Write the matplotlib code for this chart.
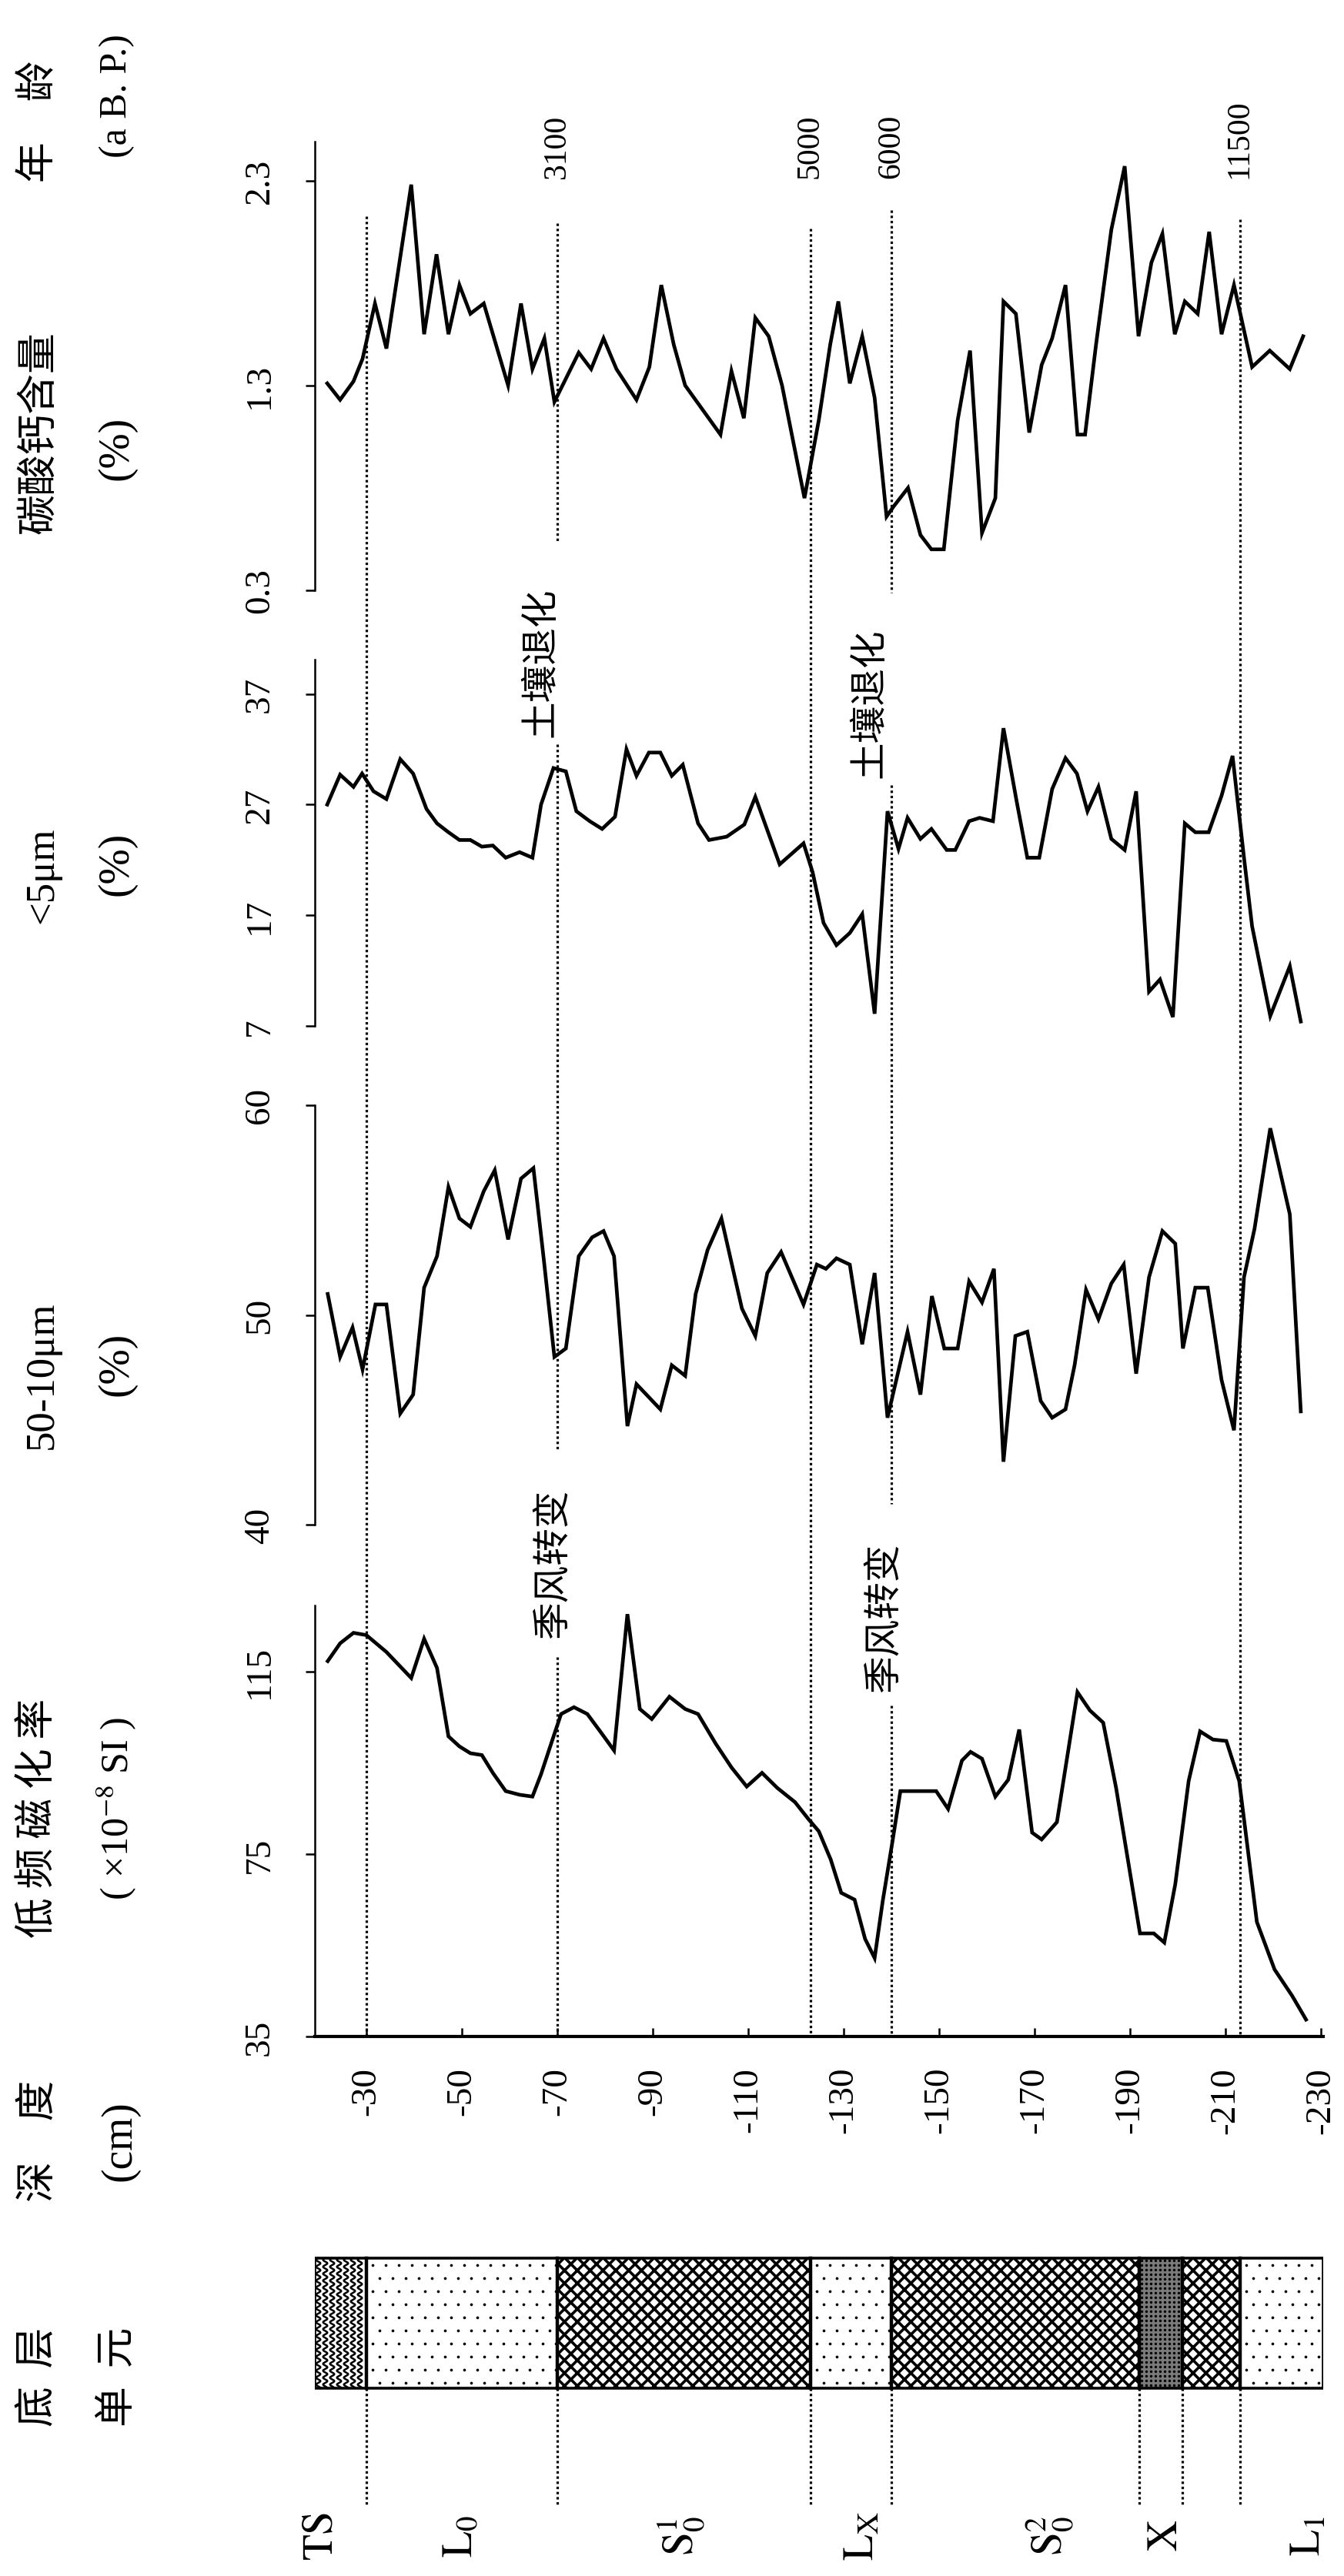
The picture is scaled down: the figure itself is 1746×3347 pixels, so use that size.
import matplotlib
matplotlib.use("Agg")
import matplotlib.pyplot as plt
from matplotlib.patches import Rectangle
import numpy as np

plt.rcParams['font.family'] = ['Noto Sans CJK SC', 'DejaVu Sans']
plt.rcParams['mathtext.fontset'] = 'stix'
plt.rcParams['hatch.linewidth'] = 2.6
plt.rcParams['axes.unicode_minus'] = False
SERIF = ['Liberation Serif', 'DejaVu Serif']

# ---------------- data ----------------
carb_depth = [-21.8, -24.5, -27.3, -29.2, -31.8, -34.2, -39.4, -42.1, -44.7, -47.2, -49.5, -51.8, -54.6,
              -59.7, -62.4, -64.8, -67.3, -69.4, -74.5, -77.1, -79.7, -82.4, -86.6, -89.3, -91.8, -94.4,
              -96.8, -104.2, -106.5, -109.1, -111.5, -114.3, -117.1, -121.8, -124.8, -127.2, -128.9,
              -131.3, -133.9, -136.5, -139.0, -140.5, -143.5, -146.1, -148.4, -151.0, -153.9, -156.5,
              -159.0, -161.8, -163.5, -166.1, -168.9, -171.5, -173.7, -176.5, -179.0, -180.6, -182.9,
              -186.1, -188.9, -191.8, -194.5, -196.8, -199.4, -201.5, -204.2, -206.6, -209.2, -211.8,
              -215.6, -219.3, -223.5, -226.3]
carb_value = [1.31, 1.23, 1.32, 1.43, 1.70, 1.48, 2.28, 1.55, 1.94, 1.55, 1.79, 1.65, 1.70,
              1.30, 1.70, 1.38, 1.53, 1.22, 1.46, 1.38, 1.53, 1.38, 1.23, 1.39, 1.79, 1.50,
              1.30, 1.06, 1.37, 1.14, 1.63, 1.54, 1.30, 0.75, 1.13, 1.50, 1.71,
              1.31, 1.54, 1.24, 0.66, 0.71, 0.80, 0.57, 0.50, 0.50, 1.13, 1.47,
              0.58, 0.75, 1.71, 1.65, 1.07, 1.40, 1.53, 1.79, 1.06, 1.06, 1.50,
              2.06, 2.37, 1.54, 1.90, 2.04, 1.55, 1.71, 1.65, 2.05, 1.55, 1.79,
              1.39, 1.47, 1.38, 1.54]

fine_depth = [-21.8, -24.5, -27.3, -29.1, -31.5, -34.2, -37.1, -39.8, -42.6, -44.8, -47.2, -49.5, -51.8,
              -54.2, -56.5, -59.2, -62.1, -64.8, -66.6, -69.2, -71.8, -74.0, -76.8, -79.4, -82.1, -84.5,
              -86.6, -89.2, -91.6, -94.0, -96.3, -99.5, -101.8, -105.5, -109.2, -111.5, -116.6, -121.6,
              -123.5, -125.8, -128.5, -131.3, -133.9, -136.5, -139.2, -141.5, -143.4, -146.1, -148.4,
              -151.6, -153.4, -156.3, -158.5, -161.3, -163.5, -166.3, -168.5, -171.0, -173.7, -176.5,
              -178.9, -181.1, -183.4, -186.1, -188.9, -191.3, -194.0, -196.3, -199.0, -201.5, -203.7,
              -206.5, -209.2, -211.5, -213.9, -215.6, -219.4, -223.5, -225.8]
fine_value = [27.0, 29.7, 28.6, 29.8, 28.2, 27.5, 31.1, 29.8, 26.6, 25.3, 24.5, 23.8, 23.8,
              23.2, 23.3, 22.2, 22.7, 22.2, 27.0, 30.3, 30.0, 26.4, 25.5, 24.8, 25.9, 32.0,
              29.6, 31.7, 31.7, 29.6, 30.6, 25.3, 23.8, 24.1, 25.2, 27.7, 21.6, 23.5,
              20.9, 16.3, 14.3, 15.4, 17.1, 8.1, 26.4, 23.0, 25.8, 23.9, 24.8,
              22.9, 22.9, 25.5, 25.8, 25.5, 33.9, 27.2, 22.2, 22.2, 28.4, 31.2,
              29.8, 26.4, 28.6, 23.9, 22.9, 28.2, 10.1, 11.2, 7.8, 25.3, 24.5,
              24.5, 27.8, 31.4, 22.2, 16.0, 7.9, 12.4, 7.4]

silt_depth = [-21.9, -24.5, -27.1, -29.2, -31.9, -34.2, -37.1, -39.8, -42.1, -44.8, -47.2, -49.5, -51.8,
              -54.6, -56.9, -59.7, -62.4, -65.0, -67.1, -69.4, -71.8, -74.5, -77.3, -79.7, -81.9, -84.7,
              -86.6, -91.6, -94.0, -96.8, -99.0, -101.5, -104.4, -108.7, -111.5, -114.0, -116.9, -121.6,
              -124.4, -126.3, -128.5, -131.3, -133.9, -136.5, -139.2, -143.4, -146.1, -148.5, -151.1,
              -153.9, -156.3, -159.0, -161.5, -163.5, -166.0, -168.5, -171.3, -173.7, -176.5, -178.4,
              -180.8, -183.4, -186.1, -188.7, -191.3, -194.0, -196.8, -199.5, -201.1, -203.7, -206.3,
              -209.2, -211.8, -213.9, -216.1, -219.4, -223.5, -225.8]
silt_value = [51.0, 48.0, 49.4, 47.4, 50.5, 50.5, 45.3, 46.2, 51.3, 52.8, 56.1, 54.6, 54.2,
              55.9, 56.9, 53.6, 56.5, 57.0, 52.8, 48.0, 48.4, 52.8, 53.7, 54.0, 52.8, 44.7,
              46.7, 45.5, 47.6, 47.1, 51.0, 53.1, 54.6, 50.3, 49.0, 52.0, 53.0, 50.5,
              52.4, 52.2, 52.7, 52.4, 48.6, 52.0, 45.1, 49.2, 46.2, 50.9, 48.4,
              48.4, 51.6, 50.6, 52.2, 43.0, 49.0, 49.2, 45.9, 45.1, 45.5, 47.6,
              51.2, 49.8, 51.5, 52.4, 47.2, 51.8, 54.0, 53.4, 48.4, 51.3, 51.3,
              46.9, 44.5, 51.8, 54.1, 58.9, 54.8, 45.4]

mag_depth = [-21.9, -24.5, -27.3, -30.0, -34.2, -39.4, -42.1, -44.8, -47.2, -49.5, -51.8, -54.2, -56.5,
             -59.2, -62.1, -64.8, -66.6, -69.0, -70.8, -73.5, -76.3, -79.2, -81.9, -84.7, -87.3, -89.8,
             -93.5, -96.8, -99.5, -103.2, -106.5, -109.7, -112.9, -116.1, -119.8, -122.6, -124.8,
             -127.3, -129.5, -132.3, -134.5, -136.5, -138.2, -140.2, -141.9, -145.6, -149.4, -151.9,
             -154.8, -156.6, -159.0, -161.8, -164.5, -166.8, -169.5, -171.5, -174.7, -179.0, -181.6,
             -184.4, -187.1, -192.1, -195.0, -197.2, -199.5, -202.3, -204.7, -207.4, -210.2, -212.9,
             -214.7, -216.6, -220.3, -224.0, -226.9]
mag_value = [117.3, 121.2, 123.5, 123.0, 119.3, 113.6, 122.2, 115.8, 100.8, 98.6, 97.1, 96.7, 92.8,
             88.8, 88.0, 87.6, 92.5, 100.1, 105.7, 107.2, 105.7, 101.6, 97.7, 127.6, 106.8, 104.6,
             109.5, 106.8, 105.7, 99.2, 94.0, 89.8, 92.8, 89.5, 86.4, 82.7, 80.0,
             73.8, 66.5, 65.0, 56.4, 52.2, 64.7, 77.5, 88.8, 88.8, 88.8, 84.9,
             95.5, 97.4, 95.9, 87.6, 91.3, 102.3, 79.7, 78.2, 82.0, 110.5, 106.5,
             103.8, 89.5, 57.6, 57.6, 55.6, 68.4, 91.0, 101.9, 100.1, 99.8, 91.0,
             76.0, 60.1, 49.7, 43.9, 38.7]

depth_ticks = [-30, -50, -70, -90, -110, -130, -150, -170, -190, -210, -230]
carb_ticks = [0.3, 1.3, 2.3]
fine_ticks = [7, 17, 27, 37]
silt_ticks = [40, 50, 60]
mag_ticks = [35, 75, 115]

age_labels = ['3100', '5000', '6000', '11500']
age_depths = [-70, -123, -140, -213]
marker_depths = [-30, -70, -123, -140, -213]

unit_tops = [-19.2, -30, -70, -123, -140, -192, -201, -213]
unit_bottoms = [-30, -70, -123, -140, -192, -201, -213, -230.5]
unit_kinds = ['wave', 'dots', 'cross', 'dots', 'cross', 'dense', 'cross', 'dots']
unit_names = [r'$\mathrm{TS}$', r'$\mathrm{L_0}$', r'$\mathrm{S_0^1}$', r'$\mathrm{L_X}$',
              r'$\mathrm{S_0^2}$', r'$\mathrm{X}$', r'$\mathrm{L_1}$']
boundary_depths = [-30, -70, -123, -140, -192, -201, -213]

# ---------------- layout ----------------
W, H = 1746, 3348
X0, X1 = 409, 1719
XLIM = (-19.2, -230.5)

def fx(px):
    return px / W

def fy(py):
    return 1 - py / H

fig = plt.figure(figsize=(W / 100, H / 100), dpi=100)
fig.patch.set_facecolor('white')

# overlay axes: x in depth, y in pixel rows from top
ov = fig.add_axes([fx(X0), 0, fx(X1) - fx(X0), 1], zorder=0)
ov.set_xlim(*XLIM)
ov.set_ylim(H, 0)
ov.axis('off')

dot_ls = (0, (1.0, 1.1))
segments = {
    -30: [(282, 2647)],
    -70: [(291, 706), (968, 1886), (2154, 2647)],
    -123: [(298, 2647)],
    -140: [(274, 771), (1021, 1955), (2217, 2647)],
    -213: [(286, 2647)],
}
for d in marker_depths:
    for (a, b) in segments[d]:
        ov.plot([d, d], [a, b], color='black', lw=2.3, ls=dot_ls, solid_capstyle='butt')

for lab, d in zip(age_labels, age_depths):
    ov.text(d, 232, lab, rotation=90, ha='center', va='bottom', fontsize=30, family=SERIF)

for d, y in zip([-66.5, -135.5], [861, 914]):
    ov.text(d, y, '土壤退化', rotation=90, ha='center', va='center', fontsize=35)
for d, y in zip([-69.0, -138.3], [2032, 2102]):
    ov.text(d, y, '季风转变', rotation=90, ha='center', va='center', fontsize=35)

# ---------------- panels ----------------
panels = [
    (carb_depth, carb_value, 185, 768, (0.3, 2.49), carb_ticks, ['0.3', '1.3', '2.3']),
    (fine_depth, fine_value, 858, 1334, (7, 40.1), fine_ticks, [str(t) for t in fine_ticks]),
    (silt_depth, silt_value, 1437, 1982, (40, 60), silt_ticks, [str(t) for t in silt_ticks]),
    (mag_depth, mag_value, 2087, 2647, (35, 129.5), mag_ticks, [str(t) for t in mag_ticks]),
]
axes = []
for i, (dx, vy, top, bot, ylim, ticks, labels) in enumerate(panels):
    ax = fig.add_axes([fx(X0), fy(bot), fx(X1) - fx(X0), (bot - top) / H], zorder=2)
    ax.patch.set_visible(False)
    ax.set_xlim(*XLIM)
    ax.set_ylim(*ylim)
    ax.plot(dx, vy, color='black', lw=3.4, clip_on=False, solid_joinstyle='miter')
    for s in ['top', 'right', 'bottom']:
        ax.spines[s].set_visible(False)
    ax.spines['left'].set_linewidth(1.8)
    ax.set_yticks(ticks)
    ax.set_yticklabels(labels, fontfamily=SERIF, fontsize=34, rotation=90, va='center')
    ax.tick_params(axis='y', direction='out', length=9, width=1.8, pad=27)
    ax.set_xticks([])
    axes.append(ax)

axm = axes[-1]
axm.spines['bottom'].set_visible(True)
axm.spines['bottom'].set_linewidth(3.0)
axm.set_xticks(depth_ticks)
axm.set_xticklabels([str(t) for t in depth_ticks], fontfamily=SERIF, fontsize=34, rotation=90)
axm.tick_params(axis='x', direction='in', length=8, width=1.8, pad=28)

# ---------------- header texts ----------------
def ftext(px, py, s, **kw):
    kw.setdefault('rotation', 90)
    kw.setdefault('ha', 'center')
    kw.setdefault('va', 'center')
    fig.text(fx(px), fy(py), s, **kw)

ftext(50, 158, '年\u3000龄', fontsize=38)
ftext(152, 125, '(a B. P.)', fontsize=36, family=SERIF)
ftext(50, 562, '碳酸钙含量', fontsize=38)
ftext(152, 582, '(%)', fontsize=40, family=SERIF)
ftext(55, 1137, '<5μm', fontsize=38, family=SERIF)
ftext(152, 1122, '(%)', fontsize=40, family=SERIF)
ftext(55, 1787, '50-10μm', fontsize=38, family=SERIF)
ftext(152, 1772, '(%)', fontsize=40, family=SERIF)
ftext(49, 2362, '低 频 磁 化 率', fontsize=38)
ftext(152, 2350, r'( ×10$^{-8}$ SI )', fontsize=36, family=SERIF)
ftext(49, 2782, '深\u3000度', fontsize=38)
ftext(155, 2782, '(cm)', fontsize=40, family=SERIF)
ftext(49, 3088, '底  层', fontsize=38)
ftext(152, 3088, '单  元', fontsize=38)

# ---------------- stratigraphic column ----------------
col_top, col_bot = 2935, 3104
cm_per_px = (XLIM[0] - XLIM[1]) / (X1 - X0)
for top, bot, kind in zip(unit_tops, unit_bottoms, unit_kinds):
    if kind == 'cross':
        ov.add_patch(Rectangle((top, col_top), bot - top, col_bot - col_top, facecolor='white',
                               edgecolor='black', hatch='xx', lw=0, zorder=1))
    elif kind == 'dense':
        ov.add_patch(Rectangle((top, col_top), bot - top, col_bot - col_top, facecolor='#7a7a7a',
                               lw=0, zorder=1))
        step = 6
        xs = np.arange(top - step * cm_per_px / 2, bot, -step * cm_per_px)
        ys = np.arange(col_top + 3, col_bot, step)
        XX, YY = np.meshgrid(xs, ys)
        ov.scatter(XX.ravel(), YY.ravel(), s=6, c='black', linewidths=0, zorder=2)
    elif kind == 'dots':
        step = 17
        ys = np.arange(col_top + 9, col_bot - 4, step)
        px_list, py_list = [], []
        for j, yv in enumerate(ys):
            off = (j % 2) * step * cm_per_px / 2
            xs = np.arange(top - step * cm_per_px / 2 - off, bot, -step * cm_per_px)
            px_list.extend(xs)
            py_list.extend([yv] * len(xs))
        ov.scatter(px_list, py_list, s=7, c='black', linewidths=0, zorder=2)
    elif kind == 'wave':
        step = 9
        yy = np.linspace(col_top, col_bot, 300)
        for xc in np.arange(top - step * cm_per_px / 2, bot, -step * cm_per_px):
            xw = xc + 2.8 * cm_per_px * np.sin(2 * np.pi * (yy - col_top) / 9.0)
            ov.plot(xw, yy, color='black', lw=1.8, zorder=2)

ov.add_patch(Rectangle((XLIM[0], col_top), XLIM[1] - XLIM[0], col_bot - col_top, fill=False,
                       edgecolor='black', lw=2.6, zorder=3))
for b in boundary_depths:
    ov.plot([b, b], [col_top, col_bot], color='black', lw=3.2, zorder=3)
    ov.plot([b, b], [col_bot, 3258], color='black', lw=2.3, ls=dot_ls, zorder=3)

unit_label_depths = [-20.3, -49.5, -96.0, -133.7, -173.2, -197.3, -227.3]
for name, d in zip(unit_names, unit_label_depths):
    ov.text(d, 3295, name, rotation=90, ha='center', va='center', fontsize=40)

fig.savefig('out.png', dpi=100, facecolor='white')
